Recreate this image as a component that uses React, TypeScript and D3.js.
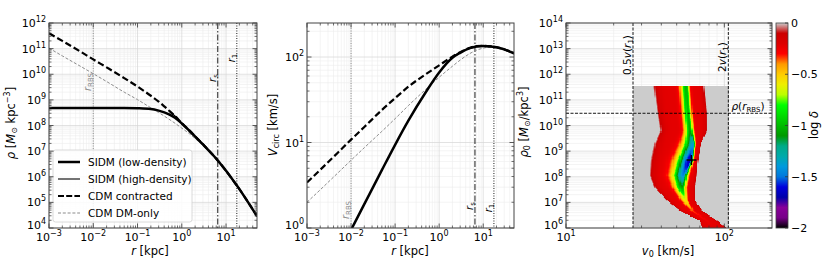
import React from 'react';
import * as d3 from 'd3';

const FONT = '"DejaVu Sans", Verdana, sans-serif';

// ---------- left panel: density profiles rho(r)
const rDens = [0.001, 0.002, 0.005, 0.01, 0.02, 0.05, 0.1, 0.2, 0.3, 0.5, 0.7, 1, 1.5, 2, 3, 5, 7, 10, 15, 20, 30, 50];
const rhoSidmLow = [4.8e8, 4.8e8, 4.8e8, 4.8e8, 4.8e8, 4.8e8, 4.7e8, 4.4e8, 3.8e8, 2.8e8, 2.0e8, 1.2e8, 6.1e7, 3.7e7, 1.82e7, 7.2e6, 3.7e6, 1.7e6, 6.6e5, 3.3e5, 1.15e5, 2.9e4];
const rhoContracted = [4.0e11, 2.0e11, 7.9e10, 3.8e10, 1.86e10, 7.1e9, 3.3e9, 1.45e9, 8.6e8, 4.0e8, 2.35e8, 1.24e8, 6.3e7, 3.8e7, 1.86e7, 7.2e6, 3.7e6, 1.7e6, 6.6e5, 3.3e5, 1.15e5, 2.9e4];
const rhoDMOnly = [1.05e11, 5.2e10, 2.1e10, 1.05e10, 5.2e9, 2.0e9, 1.02e9, 4.9e8, 3.2e8, 1.82e8, 1.23e8, 7.9e7, 4.7e7, 3.1e7, 1.66e7, 6.8e6, 3.5e6, 1.66e6, 6.5e5, 3.2e5, 1.12e5, 2.8e4];
const rHigh = [0.5, 0.7, 1, 1.5, 2, 3, 5, 7, 10, 15, 20, 30, 50];
const rhoSidmHigh = [4.0e8, 2.35e8, 1.24e8, 6.3e7, 3.8e7, 1.86e7, 7.2e6, 3.7e6, 1.7e6, 6.6e5, 3.3e5, 1.15e5, 2.9e4];

// ---------- middle panel: circular velocity
const rVel = [0.001, 0.002, 0.005, 0.01, 0.02, 0.05, 0.1, 0.2, 0.5, 1, 2, 3, 5, 7, 10, 15, 20, 30, 50];
const vContracted = [3.4, 4.8, 7.6, 10.8, 15.2, 24, 33, 45, 63, 80, 101, 114, 128, 134, 135, 133, 130, 123, 110];
const vDMOnly = [2.0, 2.8, 4.4, 6.2, 8.7, 13.5, 19, 27, 42, 58, 78, 92, 110, 120, 127, 131, 131, 126, 114];
const rVelSidm = [0.01, 0.02, 0.05, 0.1, 0.2, 0.5, 1, 2, 3, 5, 7, 10, 15, 20, 30, 50];
const vSidmLow = [0.95, 1.9, 4.75, 9.4, 18, 39, 66, 98, 112, 127, 133, 135, 133, 130, 123, 110];
const rVelHigh = [2, 3, 5, 7, 10, 15, 20, 30, 50];
const vSidmHigh = [101, 114, 128, 134, 135, 133, 130, 123, 110];

// characteristic radii [kpc]
const rRBS = 0.01;
const rS = 6.5;
const r1 = 17.5;

// ---------- right panel: log delta over (v0, rho0)
const vR1 = 53;
const rhoAtRBS = 3e10;
const rhoTop = 3.5e11;
const bestFit = { v: 62, rho: 4.5e8 };
// valley of the log(delta) map, row by row
const heatRho = [3.5e11, 3.0e10, 6.6e9, 2.0e9, 4.5e8, 1.15e8, 4.0e7, 1.26e7, 5.0e6, 2.0e6, 1.0e6];
const heatVLeft = [35.6, 37.7, 39.4, 36.0, 34.0, 33.5, 36.0, 43.0, 52.0, 69.5, 72.5];
const heatVMin = [57.4, 59.1, 60.9, 63.6, 60.9, 55.0, 54.2, 56.7, 62.7, 76.8, 86.4];
const heatVRight = [74.6, 78.0, 78.0, 71.2, 68.4, 67.4, 65.5, 65.5, 72.4, 90.2, 104.4];
const heatDepth = [-1.0, -1.0, -1.05, -1.35, -1.7, -1.45, -1.05, -0.6, -0.35, -0.25, -0.2];
const heatCoreW = [0.16, 0.16, 0.17, 0.24, 0.3, 0.3, 0.26, 0.22, 0.2, 0.2, 0.2];
const cbTicks = [0, -0.5, -1, -1.5, -2];

// nipy_spectral
const specStops = d3.range(21).map((i) => i / 20);
const specColors = ['#000000', '#770088', '#880099', '#0000aa', '#0000dd', '#0077dd', '#0099dd', '#00aaaa', '#00aa88', '#009900', '#00bb00', '#00dd00', '#00ff00', '#bbff00', '#eeee00', '#ffcc00', '#ff9900', '#ff0000', '#dd0000', '#cc0000', '#cccccc'];
const cmap = d3.scaleLinear<string>().domain(specStops).range(specColors).interpolate(d3.interpolateRgb).clamp(true);

const X1 = [49, 257], X2 = [307, 514], X3 = [566, 772], Y = [228, 23];
const x1s = d3.scaleLog().domain([1e-3, 50]).range(X1);
const y1s = d3.scaleLog().domain([1e4, 1e12]).range(Y);
const x2s = d3.scaleLog().domain([1e-3, 50]).range(X2);
const y2s = d3.scaleLog().domain([1, 250]).range(Y);
const x3s = d3.scaleLog().domain([10, 200]).range(X3);
const y3s = d3.scaleLog().domain([1e6, 1e14]).range(Y);
const cbs = d3.scaleLinear().domain([-2, 0]).range(Y);

const sup = (e: number) => (e < 0 ? '\u2212' + -e : String(e));

function logTicks(s: any) {
  const [a, b] = s.domain();
  const lo = Math.floor(Math.log10(a)), hi = Math.ceil(Math.log10(b));
  const major: number[] = [], minor: number[] = [];
  for (let e = lo; e <= hi; e++) {
    const base = Math.pow(10, e);
    if (base >= a * 0.999 && base <= b * 1.001) major.push(e);
    for (let k = 2; k <= 9; k++) if (k * base > a && k * base < b) minor.push(k * base);
  }
  return { major, minor };
}

const Frame = ({ xs, ys, id }: any) => {
  const [x0, x1] = xs.range();
  const [y1, y0] = ys.range();
  const tx = logTicks(xs), ty = logTicks(ys);
  return (
    <g>
      <clipPath id={id}><rect x={x0} y={y0} width={x1 - x0} height={y1 - y0} /></clipPath>
      {tx.minor.map((v) => <line key={'gx' + v} x1={xs(v)} x2={xs(v)} y1={y0} y2={y1} stroke="#ececec" strokeWidth={0.6} />)}
      {ty.minor.map((v) => <line key={'gy' + v} y1={ys(v)} y2={ys(v)} x1={x0} x2={x1} stroke="#ececec" strokeWidth={0.6} />)}
      {tx.major.map((e) => <line key={'Gx' + e} x1={xs(10 ** e)} x2={xs(10 ** e)} y1={y0} y2={y1} stroke="#d6d6d6" strokeWidth={0.7} />)}
      {ty.major.map((e) => <line key={'Gy' + e} y1={ys(10 ** e)} y2={ys(10 ** e)} x1={x0} x2={x1} stroke="#d6d6d6" strokeWidth={0.7} />)}
    </g>
  );
};

const Axes = ({ xs, ys }: any) => {
  const [x0, x1] = xs.range();
  const [y1, y0] = ys.range();
  const tx = logTicks(xs), ty = logTicks(ys);
  const tick = '#333';
  return (
    <g>
      {tx.minor.map((v) => (
        <g key={'tx' + v} stroke={tick} strokeWidth={0.7}>
          <line x1={xs(v)} x2={xs(v)} y1={y1} y2={y1 - 2.5} />
          <line x1={xs(v)} x2={xs(v)} y1={y0} y2={y0 + 2.5} />
        </g>
      ))}
      {ty.minor.map((v) => (
        <g key={'ty' + v} stroke={tick} strokeWidth={0.7}>
          <line y1={ys(v)} y2={ys(v)} x1={x0} x2={x0 + 2.5} />
          <line y1={ys(v)} y2={ys(v)} x1={x1} x2={x1 - 2.5} />
        </g>
      ))}
      {tx.major.map((e) => (
        <g key={'TX' + e}>
          <line x1={xs(10 ** e)} x2={xs(10 ** e)} y1={y1} y2={y1 - 4.5} stroke={tick} strokeWidth={0.8} />
          <line x1={xs(10 ** e)} x2={xs(10 ** e)} y1={y0} y2={y0 + 4.5} stroke={tick} strokeWidth={0.8} />
          <text x={xs(10 ** e)} y={y1 + 13} textAnchor="middle" fontSize={11}>10<tspan dy={-5} fontSize={8}>{sup(e)}</tspan></text>
        </g>
      ))}
      {ty.major.map((e, i) => (
        <g key={'TY' + e}>
          <line y1={ys(10 ** e)} y2={ys(10 ** e)} x1={x0} x2={x0 + 4.5} stroke={tick} strokeWidth={0.8} />
          <line y1={ys(10 ** e)} y2={ys(10 ** e)} x1={x1} x2={x1 - 4.5} stroke={tick} strokeWidth={0.8} />
          <text x={x0 - 3} y={ys(10 ** e) + (i === 0 ? 1 : 4)} textAnchor="end" fontSize={11}>10<tspan dy={-5} fontSize={8}>{sup(e)}</tspan></text>
        </g>
      ))}
      <rect x={x0} y={y0} width={x1 - x0} height={y1 - y0} fill="none" stroke="#444" strokeWidth={1} />
    </g>
  );
};

const lineOf = (xs: any, ys: any) => d3.line<[number, number]>().x((d) => xs(d[0])).y((d) => ys(d[1])).curve(d3.curveMonotoneX);
const zip = (a: number[], b: number[]) => a.map((v, i) => [v, b[i]] as [number, number]);

const VLine = ({ xs, v, dash, color = '#000' }: any) => (
  <line x1={xs(v)} x2={xs(v)} y1={Y[1]} y2={Y[0]} stroke={color} strokeWidth={0.9} strokeDasharray={dash} />
);

const RotLabel = ({ x, y, children, color = '#000', size = 10 }: any) => (
  <text transform={`translate(${x},${y}) rotate(-90)`} textAnchor="middle" fontSize={size} fill={color}>{children}</text>
);

const rName = (sub: string) => [
  <tspan key="r" fontStyle="italic">r</tspan>,
  <tspan key="s" dy={2} fontSize={7}>{sub}</tspan>,
];

function heatCells() {
  const lvA = Math.log10(0.5 * vR1), lvB = Math.log10(2 * vR1);
  const lrA = 6, lrB = Math.log10(rhoTop);
  const rows = heatRho.map(Math.log10);
  const fL = d3.scaleLinear().domain(rows).range(heatVLeft.map(Math.log10));
  const fC = d3.scaleLinear().domain(rows).range(heatVMin.map(Math.log10));
  const fR = d3.scaleLinear().domain(rows).range(heatVRight.map(Math.log10));
  const fD = d3.scaleLinear().domain(rows).range(heatDepth);
  const fW = d3.scaleLinear().domain(rows).range(heatCoreW);
  const nx = 80, ny = 120;
  const cells: any[] = [];
  for (let j = 0; j < ny; j++) {
    const lr0 = lrA + (j * (lrB - lrA)) / ny, lr1 = lrA + ((j + 1) * (lrB - lrA)) / ny;
    const lr = (lr0 + lr1) / 2;
    const c = fC(lr), l = fL(lr), r = fR(lr), dep = fD(lr), w = fW(lr);
    const plateau = Math.max(dep, -0.22), core = dep - plateau;
    for (let i = 0; i < nx; i++) {
      const lv0 = lvA + (i * (lvB - lvA)) / nx, lv1 = lvA + ((i + 1) * (lvB - lvA)) / nx;
      const lv = (lv0 + lv1) / 2;
      const u = lv < c ? (c - lv) / (c - l) : (lv - c) / (r - c);
      const uu = Math.min(u, 1);
      const val = Math.min(0, core * Math.exp(-((u / w) ** 2)) + plateau * (1 - uu ** 10));
      const x = x3s(10 ** lv0), y = y3s(10 ** lr1);
      cells.push(
        <rect key={i + '_' + j} x={x} y={y} width={x3s(10 ** lv1) - x + 0.4} height={y3s(10 ** lr0) - y + 0.4} fill={cmap((val + 2) / 2)} />
      );
    }
  }
  return cells;
}

export default function App() {
  const l1 = lineOf(x1s, y1s), l2 = lineOf(x2s, y2s);
  const cells = heatCells();
  return (
    <svg width={830} height={260} style={{ position: 'absolute', left: 0, top: 0, background: '#fff' }} fontFamily={FONT}>
      {/* ---------- panel 1 ---------- */}
      <Frame xs={x1s} ys={y1s} id="c1" />
      <g clipPath="url(#c1)">
        <VLine xs={x1s} v={rRBS} dash="1,1.5" color="#888" />
        <VLine xs={x1s} v={rS} dash="6,2,1.5,2" />
        <VLine xs={x1s} v={r1} dash="1,1.5" />
        <path d={l1(zip(rDens, rhoDMOnly))!} fill="none" stroke="#8c8c8c" strokeWidth={1} strokeDasharray="3,1.8" />
        <path d={l1(zip(rHigh, rhoSidmHigh))!} fill="none" stroke="#000" strokeWidth={1.1} />
        <path d={l1(zip(rDens, rhoContracted))!} fill="none" stroke="#000" strokeWidth={2.2} strokeDasharray="6.5,3" />
        <path d={l1(zip(rDens, rhoSidmLow))!} fill="none" stroke="#000" strokeWidth={2.5} />
      </g>
      <RotLabel x={x1s(rRBS) - 2} y={82} color="#888">{rName('RBS')}</RotLabel>
      <RotLabel x={x1s(rS) - 2} y={78}>{rName('s')}</RotLabel>
      <RotLabel x={x1s(r1) - 2} y={58}>{rName('1')}</RotLabel>
      <g>
        <rect x={53} y={150} width={139} height={72} rx={2.5} fill="#fff" fillOpacity={0.85} stroke="#d0d0d0" strokeWidth={0.8} />
        {[
          { t: 'SIDM (low-density)', w: 2.5, d: undefined, c: '#000' },
          { t: 'SIDM (high-density)', w: 1.1, d: undefined, c: '#000' },
          { t: 'CDM contracted', w: 2.2, d: '6,2.2', c: '#000' },
          { t: 'CDM DM-only', w: 1, d: '3,1.8', c: '#8c8c8c' },
        ].map((e, i) => (
          <g key={e.t}>
            <line x1={58} x2={80} y1={162 + i * 17} y2={162 + i * 17} stroke={e.c} strokeWidth={e.w} strokeDasharray={e.d} />
            <text x={88} y={166 + i * 17} fontSize={10.5}>{e.t}</text>
          </g>
        ))}
      </g>
      <Axes xs={x1s} ys={y1s} />
      <text transform="translate(15,123) rotate(-90)" textAnchor="middle" fontSize={11.5}>
        <tspan fontStyle="italic">ρ</tspan>{'  ['}<tspan fontStyle="italic">M</tspan>
        <tspan dy={2} fontSize={8}>⊙</tspan><tspan dy={-2}>{' kpc'}</tspan>
        <tspan dy={-5} fontSize={8}>−3</tspan><tspan dy={5}>]</tspan>
      </text>
      <text x={150} y={255} textAnchor="middle" fontSize={11.5}>
        <tspan fontStyle="italic">r</tspan>{'  [kpc]'}
      </text>

      {/* ---------- panel 2 ---------- */}
      <Frame xs={x2s} ys={y2s} id="c2" />
      <g clipPath="url(#c2)">
        <VLine xs={x2s} v={rRBS} dash="1,1.5" color="#888" />
        <VLine xs={x2s} v={rS} dash="6,2,1.5,2" />
        <VLine xs={x2s} v={r1} dash="1,1.5" />
        <path d={l2(zip(rVel, vDMOnly))!} fill="none" stroke="#8c8c8c" strokeWidth={1} strokeDasharray="3,1.8" />
        <path d={l2(zip(rVelHigh, vSidmHigh))!} fill="none" stroke="#000" strokeWidth={1.1} />
        <path d={l2(zip(rVel, vContracted))!} fill="none" stroke="#000" strokeWidth={2.2} strokeDasharray="6.5,3" />
        <path d={l2(zip(rVelSidm, vSidmLow))!} fill="none" stroke="#000" strokeWidth={2.5} />
      </g>
      <RotLabel x={x2s(rRBS) - 2} y={210} color="#888">{rName('RBS')}</RotLabel>
      <RotLabel x={x2s(rS) - 2} y={206}>{rName('s')}</RotLabel>
      <RotLabel x={x2s(r1) - 2} y={208}>{rName('1')}</RotLabel>
      <Axes xs={x2s} ys={y2s} />
      <text transform="translate(277,125) rotate(-90)" textAnchor="middle" fontSize={11.5}>
        <tspan fontStyle="italic">V</tspan><tspan dy={2} fontSize={8}>circ</tspan><tspan dy={-2}>{' [km/s]'}</tspan>
      </text>
      <text x={410} y={255} textAnchor="middle" fontSize={11.5}>
        <tspan fontStyle="italic">r</tspan>{' [kpc]'}
      </text>

      {/* ---------- panel 3 ---------- */}
      <Frame xs={x3s} ys={y3s} id="c3" />
      <g clipPath="url(#c3)" shapeRendering="crispEdges">{cells}</g>
      <g clipPath="url(#c3)">
        <VLine xs={x3s} v={0.5 * vR1} dash="3,1.5" />
        <VLine xs={x3s} v={2 * vR1} dash="3,1.5" />
        <line x1={X3[0]} x2={X3[1]} y1={y3s(rhoAtRBS)} y2={y3s(rhoAtRBS)} stroke="#000" strokeWidth={0.9} strokeDasharray="3,1.5" />
        <g stroke="#000" strokeWidth={1.4}>
          <line x1={x3s(bestFit.v) - 5} x2={x3s(bestFit.v) + 5} y1={y3s(bestFit.rho)} y2={y3s(bestFit.rho)} />
          <line x1={x3s(bestFit.v)} x2={x3s(bestFit.v)} y1={y3s(bestFit.rho) - 5} y2={y3s(bestFit.rho) + 5} />
        </g>
      </g>
      <RotLabel x={x3s(0.5 * vR1) - 2} y={55} size={10.5}>
        0.5<tspan fontStyle="italic">v</tspan>(<tspan fontStyle="italic">r</tspan><tspan dy={2} fontSize={7}>1</tspan><tspan dy={-2}>)</tspan>
      </RotLabel>
      <RotLabel x={x3s(2 * vR1) - 2} y={57} size={10.5}>
        2<tspan fontStyle="italic">v</tspan>(<tspan fontStyle="italic">r</tspan><tspan dy={2} fontSize={7}>1</tspan><tspan dy={-2}>)</tspan>
      </RotLabel>
      <text x={748} y={y3s(rhoAtRBS) - 3} textAnchor="middle" fontSize={10.5}>
        <tspan fontStyle="italic">ρ</tspan>(<tspan fontStyle="italic">r</tspan><tspan dy={2} fontSize={7}>RBS</tspan><tspan dy={-2}>)</tspan>
      </text>
      <Axes xs={x3s} ys={y3s} />
      <text transform="translate(528,122) rotate(-90)" textAnchor="middle" fontSize={11.5}>
        <tspan fontStyle="italic">ρ</tspan><tspan dy={2} fontSize={8}>0</tspan><tspan dy={-2}>{' ['}</tspan><tspan fontStyle="italic">M</tspan>
        <tspan dy={2} fontSize={8}>⊙</tspan><tspan dy={-2}>/kpc</tspan>
        <tspan dy={-5} fontSize={8}>3</tspan><tspan dy={5}>]</tspan>
      </text>
      <text x={668} y={255} textAnchor="middle" fontSize={11.5}>
        <tspan fontStyle="italic">v</tspan><tspan dy={2} fontSize={8}>0</tspan><tspan dy={-2}>{' [km/s]'}</tspan>
      </text>

      {/* ---------- colorbar ---------- */}
      <defs>
        <linearGradient id="cbg" x1="0" y1="1" x2="0" y2="0">
          {specStops.map((s, i) => <stop key={i} offset={s} stopColor={specColors[i]} />)}
        </linearGradient>
      </defs>
      <rect x={776} y={Y[1]} width={12} height={Y[0] - Y[1]} fill="url(#cbg)" stroke="#444" strokeWidth={0.8} />
      {cbTicks.map((t) => (
        <g key={t}>
          <line x1={788} x2={785} y1={cbs(t)} y2={cbs(t)} stroke="#333" strokeWidth={0.8} />
          <text x={791} y={cbs(t) + 4} fontSize={11}>{t === 0 ? '0' : '\u2212' + -t}</text>
        </g>
      ))}
      <text transform="translate(818,125) rotate(-90)" textAnchor="middle" fontSize={11.5}>log <tspan fontStyle="italic">δ</tspan></text>
    </svg>
  );
}
